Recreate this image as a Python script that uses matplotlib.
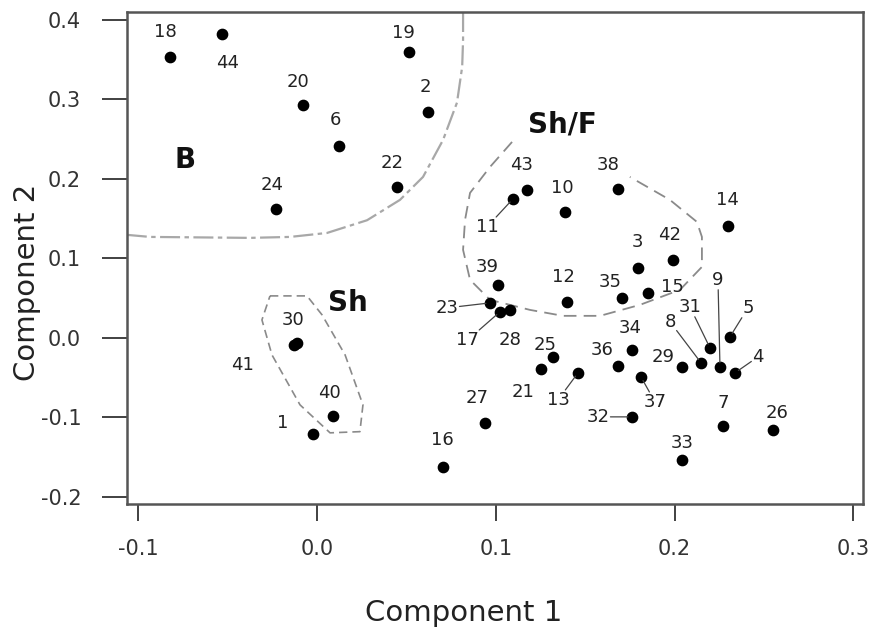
import matplotlib

matplotlib.use("Agg")
import matplotlib.pyplot as plt

# sample scores on the first two components
IDS = list(range(1, 45))
COMP1 = [-0.0022, 0.0621, 0.1795, 0.2338, 0.2310, 0.0123, 0.2271, 0.2148, 0.2254, 0.1387,
         0.1096, 0.1398, 0.1460, 0.2299, 0.1851, 0.0705, 0.1023, -0.0822, 0.0515, -0.0078,
         0.1253, 0.0447, 0.0968, -0.0229, 0.1320, 0.2550, 0.0940, 0.1079, 0.2041, -0.0112,
         0.2198, 0.1762, 0.2041, 0.1762, 0.1706, 0.1683, 0.1812, 0.1683, 0.1012, 0.0089,
         -0.0129, 0.1991, 0.1174, -0.0531]
COMP2 = [-0.1208, 0.2843, 0.0881, -0.0440, 0.0013, 0.2415, -0.1107, -0.0314, -0.0365, 0.1585,
         0.1748, 0.0453, -0.0440, 0.1409, 0.0566, -0.1623, 0.0327, 0.3535, 0.3597, 0.2931,
         -0.0390, 0.1899, 0.0440, 0.1623, -0.0239, -0.1157, -0.1069, 0.0352, -0.0365, -0.0063,
         -0.0126, -0.0994, -0.1535, -0.0151, 0.0503, -0.0352, -0.0491, 0.1874, 0.0667, -0.0981,
         -0.0088, 0.0981, 0.1862, 0.3824]

# group outlines (data coordinates)
B_X = [0.0817, 0.0817, 0.0812, 0.0783, 0.0705, 0.0593, 0.0464, 0.0280, 0.0056, -0.0151,
       -0.0375, -0.0934, -0.1063]
B_Y = [0.410, 0.3748, 0.341, 0.296, 0.249, 0.2025, 0.1736, 0.148, 0.132, 0.127,
       0.1258, 0.127, 0.1296]
SH_X = [-0.0263, -0.0056, 0.0028, 0.0157, 0.0257, 0.0240, 0.0073, -0.0095, -0.0252, -0.0308, -0.0263]
SH_Y = [0.0528, 0.0528, 0.029, -0.0214, -0.0843, -0.118, -0.1195, -0.0843, -0.0214, 0.0226, 0.0528]
SHF_X = [0.1091, 0.0968, 0.0856, 0.0828, 0.0817, 0.0856, 0.0968, 0.1191, 0.1376, 0.1583,
         0.1806, 0.2030, 0.2153, 0.2153, 0.2125, 0.1974, 0.1750]
SHF_Y = [0.2465, 0.2151, 0.1824, 0.1484, 0.1107, 0.073, 0.0478, 0.0352, 0.0277, 0.0277,
         0.0415, 0.0604, 0.0893, 0.127, 0.1459, 0.1736, 0.2025]

GROUPS = ["B", "Sh", "Sh/F"]
GROUP_X = [-0.0738, 0.0173, 0.137]
GROUP_Y = [0.2239, 0.044, 0.268]

XTICKS = [-0.1, 0.0, 0.1, 0.2, 0.3]
YTICKS = [-0.2, -0.1, 0.0, 0.1, 0.2, 0.3, 0.4]

# label placement, offset in pixels from the point
OFFSETS = {
    1: (-30, 11), 2: (-3, 25), 3: (0, 26), 4: (23, 16), 5: (18, 29), 6: (-4, 26),
    7: (0, 23), 8: (-31, 41), 9: (-2, 87), 10: (-3, 24), 11: (-26, -28), 12: (-4, 25),
    13: (-20, -27), 14: (-1, 26), 15: (25, 6), 16: (-1, 27), 17: (-32, -28), 18: (-5, 25),
    19: (-6, 19), 20: (-5, 23), 21: (-18, -23), 22: (-5, 24), 23: (-43, -5), 24: (-4, 24),
    25: (-8, 12), 26: (4, 17), 27: (-8, 25), 28: (0, -30), 29: (-19, 10), 30: (-4, 23),
    31: (-20, 41), 32: (-34, 0), 33: (0, 17), 34: (-2, 22), 35: (-12, 16), 36: (-16, 16),
    37: (14, -25), 38: (-10, 24), 39: (-11, 18), 40: (-3, 23), 41: (-51, -20), 42: (-3, 25),
    43: (-5, 25), 44: (5, -29),
}
LEADERS = {4, 5, 8, 9, 11, 13, 17, 23, 31, 32, 37}


def main() -> None:
    fig = plt.figure(figsize=(8.69, 6.31), dpi=100)
    ax = fig.add_axes([0.1461, 0.2013, 0.8470, 0.7797])

    ax.plot(B_X, B_Y, color="#a8a8a8", lw=1.6, ls=(0, (9, 2, 2, 2)), zorder=1)
    ax.plot(SH_X, SH_Y, color="#8a8a8a", lw=1.2, ls=(0, (5, 3)), zorder=1)
    ax.plot(SHF_X, SHF_Y, color="#8a8a8a", lw=1.3, ls=(0, (7, 4)), zorder=1)

    ax.scatter(COMP1, COMP2, s=55, color="black", zorder=3)

    for i, x, y in zip(IDS, COMP1, COMP2):
        dx, dy = OFFSETS[i]
        kw = {}
        if i in LEADERS:
            kw = dict(arrowprops=dict(arrowstyle="-", color="#444444", lw=0.9, shrinkA=0, shrinkB=3),
                      bbox=dict(boxstyle="square,pad=0.05", fc="none", ec="none"))
        ax.annotate(str(i), (x, y), xytext=(dx, dy), textcoords="offset pixels",
                    ha="center", va="center", fontsize=13, color="#222222", zorder=4, **kw)

    for name, gx, gy in zip(GROUPS, GROUP_X, GROUP_Y):
        ax.text(gx, gy, name, ha="center", va="center", fontsize=20, fontweight="bold",
                color="#111111", zorder=4)

    ax.set_xlim(-0.1063, 0.3054)
    ax.set_ylim(-0.209, 0.410)
    ax.set_xticks(XTICKS)
    ax.set_xticklabels([f"{t:.1f}" for t in XTICKS])
    ax.set_yticks(YTICKS)
    ax.set_yticklabels([f"{t:.1f}" for t in YTICKS])
    ax.tick_params(axis="x", length=12, width=1.3, pad=13, labelsize=15, colors="#333333")
    ax.tick_params(axis="y", length=18, width=1.3, pad=15, labelsize=15, colors="#333333")
    for sp in ax.spines.values():
        sp.set_color("#555555")
        sp.set_linewidth(1.8)

    ax.set_xlabel("Component 1", fontsize=21, color="#222222")
    ax.xaxis.set_label_coords(0.458, -0.2215)
    ax.xaxis.label.set_va("center")
    ax.set_ylabel("Component 2", fontsize=21, color="#222222")
    ax.yaxis.set_label_coords(-0.136, 0.451)
    ax.yaxis.label.set_va("center")

    fig.savefig("out.png", dpi=100)
    plt.close(fig)


if __name__ == "__main__":
    main()
